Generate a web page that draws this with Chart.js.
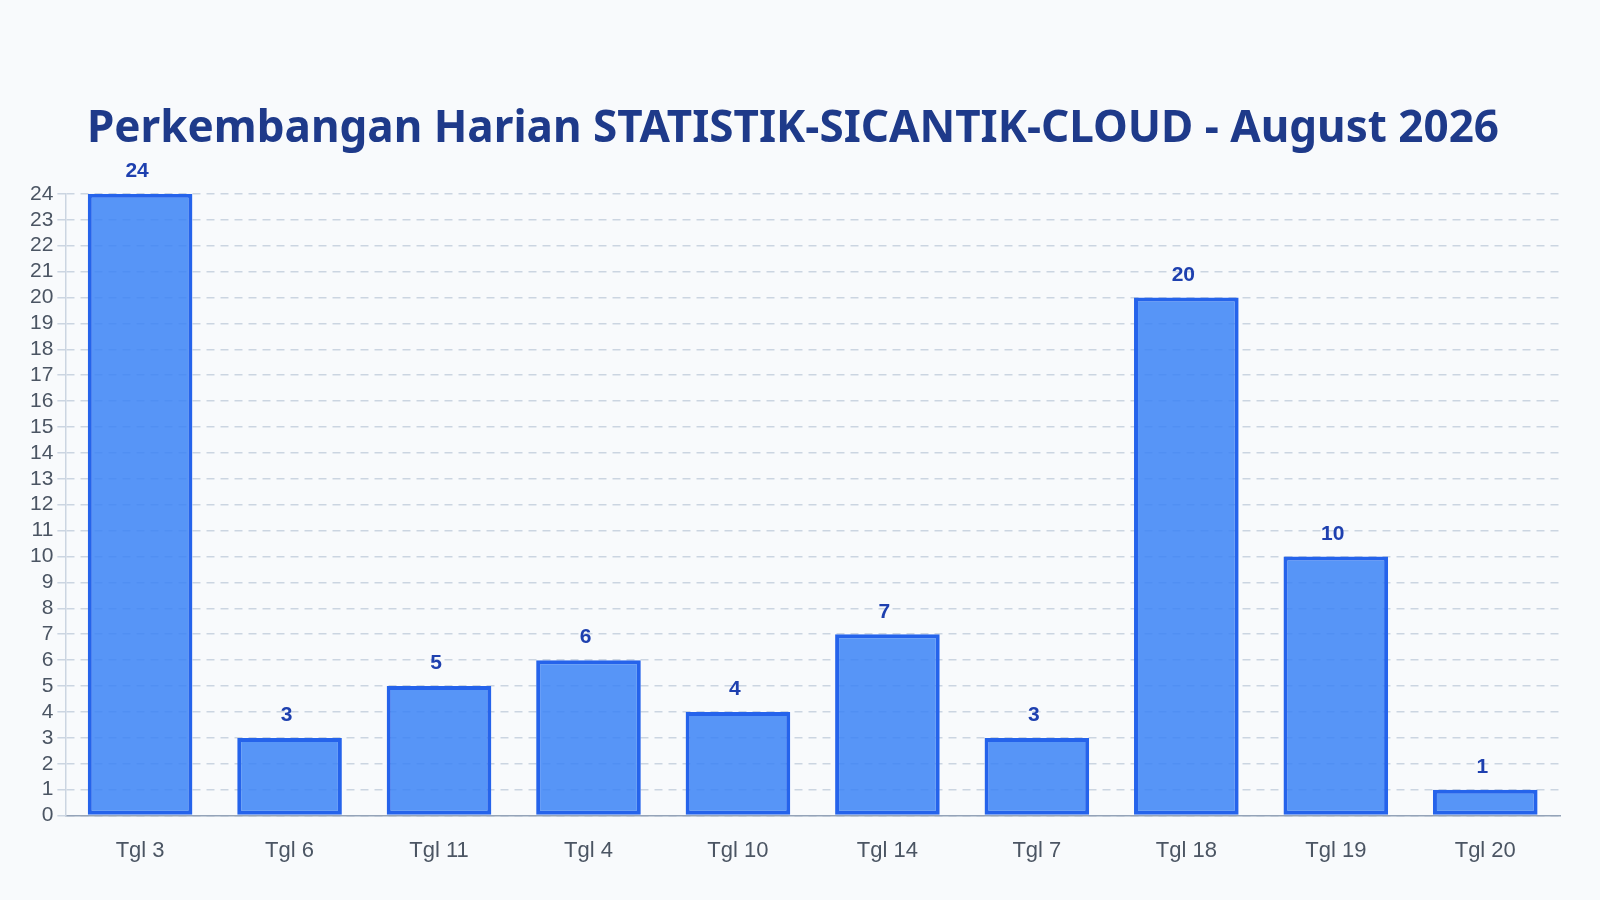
<!DOCTYPE html>
<html><head><meta charset="utf-8">
<script src="https://cdn.jsdelivr.net/npm/chart.js@4/dist/chart.umd.min.js"></script>
<style>html,body{margin:0;background:#f8fafc}#w{width:1600px;height:900px}</style>
</head><body><div id="w"><canvas id="c"></canvas></div>
<script>
const categories = ["Tgl 3","Tgl 6","Tgl 11","Tgl 4","Tgl 10","Tgl 14","Tgl 7","Tgl 18","Tgl 19","Tgl 20"];
const values = [24,3,5,6,4,7,3,20,10,1];
const titleText = "Perkembangan Harian STATISTIK-SICANTIK-CLOUD - August 2026";
const labelPlugin = {
  id:'vals',
  afterDatasetsDraw(chart){
    const ctx=chart.ctx, meta=chart.getDatasetMeta(0);
    ctx.save();ctx.font='bold 21px "Liberation Sans", Arial';ctx.fillStyle='#1e40af';
    ctx.textAlign='center';ctx.textBaseline='bottom';
    meta.data.forEach((b,i)=>ctx.fillText(values[i],b.x-3,b.y-12));
    ctx.restore();
  }
};
new Chart(document.getElementById('c'),{
  type:'bar',
  data:{labels:categories,datasets:[{data:values,backgroundColor:'rgba(59,130,246,0.85)',borderColor:'#2563eb',borderWidth:4,borderSkipped:false,barPercentage:0.7,categoryPercentage:1}]},
  options:{responsive:true,maintainAspectRatio:false,animation:false,
    layout:{padding:{top:103,right:40,left:26,bottom:22}},
    plugins:{legend:{display:false},tooltip:{enabled:false},
      title:{display:true,text:titleText,color:'#1e3a8a',font:{family:'"Noto Sans"',size:44,weight:'bold'},padding:{top:0,bottom:38}}},
    scales:{
      x:{grid:{display:false},border:{color:'#94a3b8',width:1.5},ticks:{color:'#4b5563',font:{family:'"Liberation Sans"',size:22},padding:14}},
      y:{min:0,max:24,ticks:{stepSize:1,autoSkip:false,color:'#4b5563',font:{family:'"Liberation Sans"',size:21},padding:4},
        grid:{color:'#cbd5e1',lineWidth:1.5,tickLength:8},border:{color:'#cbd5e1',width:1.5,dash:[8,6]}}
    }
  },
  plugins:[labelPlugin]
});
</script></body></html>
